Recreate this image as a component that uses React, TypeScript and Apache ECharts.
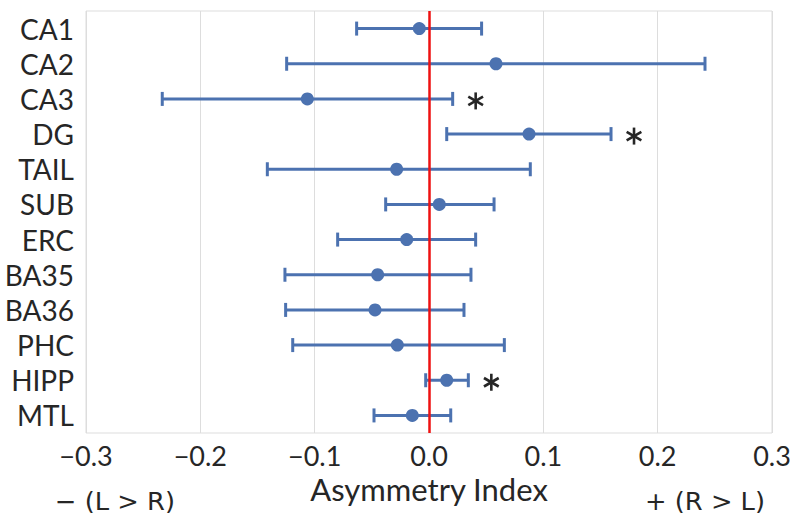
import React, { useEffect, useRef } from "react";
import * as echarts from "echarts";

const categories = ["CA1", "CA2", "CA3", "DG", "TAIL", "SUB", "ERC", "BA35", "BA36", "PHC", "HIPP", "MTL"];
const means = [-0.0085, 0.0586, -0.1064, 0.0875, -0.0283, 0.009, -0.0195, -0.0449, -0.0472, -0.0277, 0.0155, -0.0146];
const lows = [-0.0633, -0.1245, -0.2333, 0.0155, -0.1414, -0.0379, -0.0799, -0.126, -0.1254, -0.1192, -0.0029, -0.0481];
const highs = [0.046, 0.2414, 0.0207, 0.1592, 0.0886, 0.0569, 0.0408, 0.0367, 0.0306, 0.0659, 0.0344, 0.019];
const significant = ["CA3", "DG", "HIPP"];
const xTicks = [-0.3, -0.2, -0.1, 0.0, 0.1, 0.2, 0.3];

const BLUE = "#4C72B0";
const TEXT = "#262626";
const FONT = "Lato";

export default function App() {
  const ref = useRef<HTMLDivElement>(null);
  useEffect(() => {
    if (!ref.current) return;
    const chart = echarts.init(ref.current, undefined, { renderer: "svg" });
    const errData = categories.map((c, i) => [i, lows[i], highs[i]]);
    const dotData = categories.map((c, i) => [means[i], i]);
    const starData = categories
      .map((c, i) => (significant.includes(c) ? [highs[i], i] : null))
      .filter((d) => d !== null);

    chart.setOption({
      animation: false,
      grid: { left: 86, right: 28, top: 11, bottom: 92, show: true, borderColor: "#dddddd", borderWidth: 1 },
      xAxis: {
        type: "value",
        min: xTicks[0],
        max: xTicks[xTicks.length - 1],
        interval: 0.1,
        axisLine: { show: false },
        axisTick: { show: false },
        splitLine: { show: true, lineStyle: { color: "#dddddd", width: 1 } },
        axisLabel: {
          color: TEXT,
          fontFamily: FONT,
          fontSize: 27,
          margin: 9,
          formatter: (v: number) => {
            const s = Math.abs(v).toFixed(1);
            return v < -1e-9 ? "\u2212" + s : s;
          },
        },
        name: "Asymmetry Index",
        nameLocation: "middle",
        nameGap: 33,
        nameTextStyle: { color: TEXT, fontFamily: FONT, fontSize: 31 },
      },
      yAxis: {
        type: "category",
        data: categories,
        inverse: true,
        axisLine: { show: false },
        axisTick: { show: false },
        splitLine: { show: false },
        axisLabel: { color: TEXT, fontFamily: FONT, fontSize: 28, margin: 12, interval: 0 },
      },
      series: [
        {
          type: "custom",
          encode: { x: [1, 2], y: 0 },
          data: errData,
          renderItem: (params: any, api: any) => {
            const idx = api.value(0);
            const p1 = api.coord([api.value(1), idx]);
            const p2 = api.coord([api.value(2), idx]);
            const h = 7;
            const style = { stroke: BLUE, lineWidth: 3 };
            return {
              type: "group",
              children: [
                { type: "line", shape: { x1: p1[0], y1: p1[1], x2: p2[0], y2: p2[1] }, style },
                { type: "line", shape: { x1: p1[0], y1: p1[1] - h, x2: p1[0], y2: p1[1] + h }, style },
                { type: "line", shape: { x1: p2[0], y1: p2[1] - h, x2: p2[0], y2: p2[1] + h }, style },
              ],
            };
          },
          z: 2,
        },
        {
          type: "scatter",
          data: dotData,
          symbol: "circle",
          symbolSize: 13,
          itemStyle: { color: BLUE, opacity: 1 },
          z: 3,
          markLine: {
            silent: true,
            symbol: "none",
            label: { show: false },
            lineStyle: { color: "#ee1111", width: 2.5, type: "solid" },
            data: [{ xAxis: 0 }],
            z: 4,
          },
        },
        {
          type: "custom",
          encode: { x: 0, y: 1 },
          data: starData,
          renderItem: (params: any, api: any) => {
            const p = api.coord([api.value(0), api.value(1)]);
            const cx = p[0] + 23;
            const cy = p[1] + 2;
            const r = 8.5;
            const style = { stroke: TEXT, lineWidth: 2.6 };
            const angles = [90, 30, 150];
            return {
              type: "group",
              children: angles.map((a) => {
                const rad = (a * Math.PI) / 180;
                const dx = Math.cos(rad) * r;
                const dy = Math.sin(rad) * r;
                return { type: "line", shape: { x1: cx - dx, y1: cy - dy, x2: cx + dx, y2: cy + dy }, style };
              }),
            };
          },
          z: 5,
        },
      ],
      graphic: [
        {
          type: "text",
          x: 55,
          y: 501,
          scaleX: 1.03,
          style: {
            text: "\u2212 (L > R)",
            fill: TEXT,
            fontSize: 25,
            fontFamily: "DejaVu Sans",
            align: "left",
            verticalAlign: "middle",
          },
        },
        {
          type: "text",
          x: 765,
          y: 501,
          scaleX: 1.03,
          style: {
            text: "+ (R > L)",
            fill: TEXT,
            fontSize: 25,
            fontFamily: "DejaVu Sans",
            align: "right",
            verticalAlign: "middle",
          },
        },
      ],
    });
    return () => chart.dispose();
  }, []);
  return <div ref={ref} style={{ position: "absolute", left: 0, top: 0, width: 800, height: 525 }} />;
}
